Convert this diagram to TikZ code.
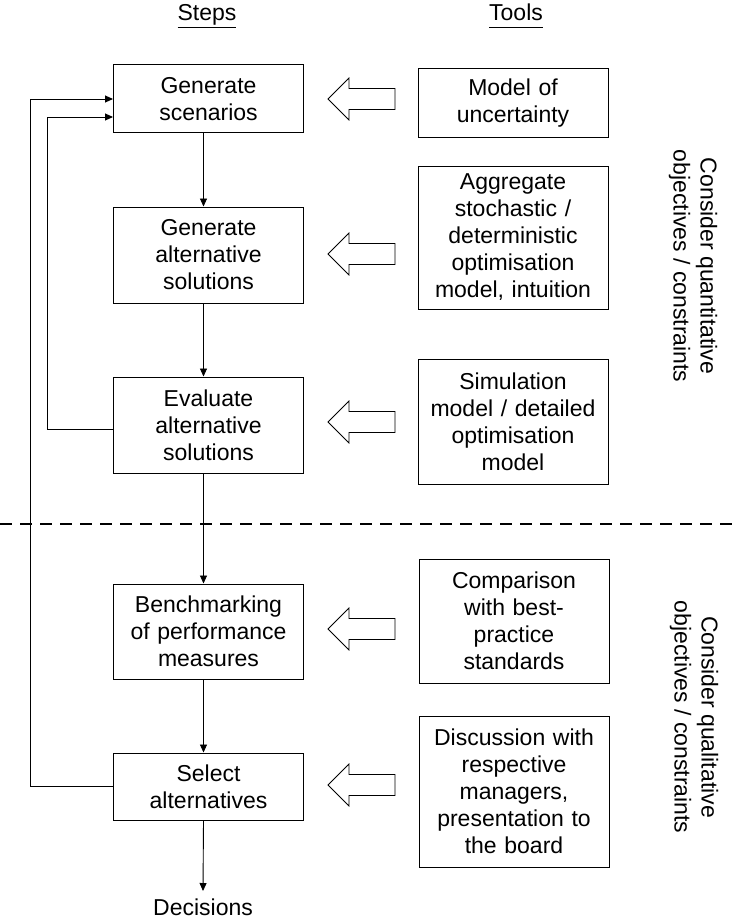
\documentclass[tikz,border=0pt]{standalone}
\usepackage{fontspec}
\setmainfont{Liberation Sans}
\usetikzlibrary{arrows.meta,calc}
\begin{document}
\begin{tikzpicture}[x=1pt,y=-1pt,
  every node/.style={font=\fontsize{23}{27}\selectfont},
  stepbox/.style={draw,line width=1pt,minimum width=190pt,inner sep=0pt,text width=186pt,align=center},
  toolbox/.style={draw,line width=1pt,minimum width=190pt,inner sep=0pt,text width=186pt,align=center},
  flow/.style={line width=0.9pt,-{Triangle[length=8pt,width=7pt]}},
  hollow/.style={draw,line width=0.8pt,fill=white,line join=miter},
  sidetext/.style={rotate=-90,align=center,inner sep=0pt}]
\useasboundingbox (0,0) rectangle (736,923);
% headers
\node (hs) at (207,16) {\underline{Steps\vphantom{p}}};
\node (ht) at (516,16) {\underline{Tools\vphantom{p}}};
% steps
\node[stepbox,minimum height=68pt] (s1) at (208.5,99) {Generate\\scenarios};
\node[stepbox,minimum height=96pt] (s2) at (208.5,255) {Generate\\alternative\\solutions};
\node[stepbox,minimum height=96pt] (s3) at (208.5,425) {Evaluate\\alternative\\solutions};
\node[stepbox,minimum height=95pt] (s4) at (208.5,631.5) {Benchmarking\\of performance\\measures};
\node[stepbox,minimum height=67pt] (s5) at (208.5,786.5) {Select\\alternatives};
\node[inner sep=0pt,anchor=north] (dec) at (203,899) {Decisions};
% tools
\node[toolbox,minimum height=68pt] (t1) at (513,103) {Model of\\uncertainty};
\node[toolbox,minimum height=143pt] (t2) at (513,237.5) {Aggregate\\stochastic /\\deterministic\\optimisation\\model, intuition};
\node[toolbox,minimum height=125pt] (t3) at (513,421.5) {Simulation\\model / detailed\\optimisation\\model};
\node[toolbox,minimum height=124pt] (t4) at (514,621) {Comparison\\with best-\\practice\\standards};
\node[toolbox,minimum height=151pt] (t5) at (514,791.5) {Discussion with\\respective\\managers,\\presentation to\\the board};
% side texts
\node[sidetext] (q1) at (693,266) {Consider quantitative\\objectives / constraints};
\node[sidetext] (q2) at (694,717) {Consider qualitative\\objectives / constraints};
% dashed separator
\coordinate (dl) at (0,524);
\coordinate (dr) at (736,524);
\draw[line width=2.2pt,dash pattern=on 12pt off 8pt] (dl) -- (dr);
% vertical flow
\draw[flow] ([xshift=-5pt]s1.south) -- ([xshift=-5pt]s2.north);
\draw[flow] ([xshift=-5pt]s2.south) -- ([xshift=-5pt]s3.north);
\draw[flow] ([xshift=-5pt]s3.south) -- ([xshift=-5pt]s4.north);
\draw[flow] ([xshift=-5pt]s4.south) -- ([xshift=-5pt]s5.north);
\draw[flow] ([xshift=-5pt]s5.south) -- ([yshift=8pt]dec.north);
% feedback loops
\draw[flow] (s5.west) -- (30,786.5) |- (s1.west);
\draw[flow] ([yshift=-4pt]s3.west) -- (47.5,429) |- ([yshift=-18pt]s1.west);
% hollow arrows (tool -> step)
\foreach \s/\t/\yy in {s1/t1/99,s2/t2/254,s3/t3/422,s4/t4/629,s5/t5/785}{
  \path (\s.east |- 0,\yy) ++(24,0) coordinate (tip-\s);
  \draw[hollow] (tip-\s) -- ++(21,-21) -- ++(0,10.5) -- ++(46,0) -- ++(0,21) -- ++(-46,0) -- ++(0,10.5) -- cycle;
}
\end{tikzpicture}
\end{document}
